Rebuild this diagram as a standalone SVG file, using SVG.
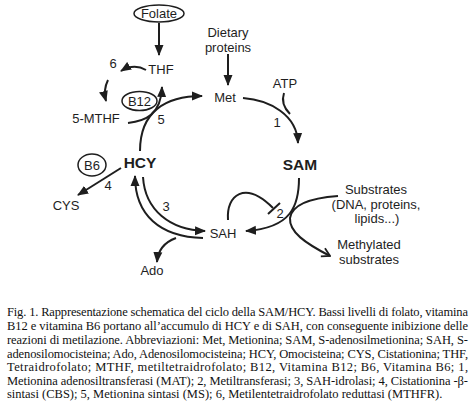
<svg xmlns="http://www.w3.org/2000/svg" width="475" height="409" viewBox="0 0 475 409">
<style>
.t{font-family:"Liberation Sans",Arial,sans-serif;font-size:13px;fill:#1e1e1e;text-anchor:middle}
.b{font-weight:bold;font-size:15.5px}
.c{fill:none;stroke:#1e1e1e;stroke-width:2}
.o{fill:#fff;stroke:#1e1e1e;stroke-width:1.5}
.cap{font-family:"Liberation Serif","Times New Roman",serif;font-size:12.5px;fill:#111}
</style>
<defs>
<marker id="ah" viewBox="0 -5 11 10" refX="10" refY="0" markerWidth="11" markerHeight="10" markerUnits="userSpaceOnUse" orient="auto">
<path d="M0,-4.5 L11,0 L0,4.5 Z" fill="#1e1e1e"/>
</marker>
<marker id="oh" viewBox="0 -6 10 12" refX="9" refY="0" markerWidth="10" markerHeight="12" markerUnits="userSpaceOnUse" orient="auto">
<path d="M1,-4.5 L9,0 L1,4.5" fill="none" stroke="#1e1e1e" stroke-width="1.8"/>
</marker>
</defs>
<rect width="475" height="409" fill="#fff"/>
<g id="connectors">
<path class="c" d="M159,23 L159,55" marker-end="url(#ah)"/>
<path class="c" d="M228,54 L228,85" marker-end="url(#ah)"/>
<path class="c" d="M146,70 Q134,63 121,71" marker-end="url(#ah)"/>
<path class="c" d="M108,80 Q103,90 106,101" marker-end="url(#ah)"/>
<path class="c" d="M128,123 C145,121 161,115 162,87" marker-end="url(#ah)"/>
<path class="c" d="M140,151 C140,112 165,96 202,96" marker-end="url(#ah)"/>
<path class="c" d="M243,98 C270,100 297,115 298,143" marker-end="url(#ah)"/>
<path class="c" d="M284,93 C281,102 284,108 290,114"/>
<path class="c" d="M299,178 C299,205 292,228 246,231" marker-end="url(#ah)"/>
<path class="c" d="M338,196 C310,198 292,205 290,218 C289,232 305,243 330,256" marker-end="url(#oh)"/>
<path class="c" d="M228,220 C226,195 245,180 273,208"/>
<path class="c" d="M268,214 L280,203"/>
<path class="c" d="M121,168 L78,195" marker-end="url(#ah)"/>
<path class="c" d="M203,238 C160,237 135,215 135,176" marker-end="url(#ah)"/>
<path class="c" d="M143,177 C145,210 170,230 205,231" marker-end="url(#ah)"/>
<path class="c" d="M176,238 C165,242 158,250 157,262" marker-end="url(#ah)"/>
</g>
<g id="folate"><ellipse class="o" cx="159" cy="13.5" rx="25" ry="8.5"/><text class="t" x="159" y="18">Folate</text></g>
<g id="dietary"><text class="t" x="228" y="37">Dietary</text><text class="t" x="228" y="52">proteins</text></g>
<g id="thf"><text class="t" x="161" y="74">THF</text></g>
<g id="n6"><text class="t" x="113" y="68">6</text></g>
<g id="b12"><ellipse class="o" cx="139.5" cy="101" rx="17.5" ry="9.5"/><text class="t" x="139.5" y="106">B12</text></g>
<g id="mthf"><text class="t" x="96" y="123">5-MTHF</text></g>
<g id="n5"><text class="t" x="161" y="124">5</text></g>
<g id="met"><text class="t" x="225" y="102">Met</text></g>
<g id="atp"><text class="t" x="285" y="88">ATP</text></g>
<g id="n1"><text class="t" x="277" y="127">1</text></g>
<g id="sam"><text class="t b" x="300" y="170">SAM</text></g>
<g id="hcy"><text class="t b" x="140" y="168">HCY</text></g>
<g id="b6"><ellipse class="o" cx="92" cy="165" rx="14" ry="11"/><text class="t" x="92" y="170">B6</text></g>
<g id="n4"><text class="t" x="108" y="190">4</text></g>
<g id="cys"><text class="t" x="66" y="210">CYS</text></g>
<g id="n3"><text class="t" x="166" y="211">3</text></g>
<g id="sah"><text class="t" x="223" y="238">SAH</text></g>
<g id="ado"><text class="t" x="152" y="275">Ado</text></g>
<g id="n2"><text class="t" x="280" y="218">2</text></g>
<g id="substrates"><text class="t" x="376" y="194">Substrates</text><text class="t" x="376" y="209">(DNA, proteins,</text><text class="t" x="377" y="223">lipids...)</text></g>
<g id="methylated"><text class="t" x="369" y="249">Methylated</text><text class="t" x="369" y="264">substrates</text></g>
<g id="caption">
<text class="cap" x="7" y="316" textLength="461" lengthAdjust="spacing">Fig. 1. Rappresentazione schematica del ciclo della SAM/HCY. Bassi livelli di folato, vitamina</text>
<text class="cap" x="7" y="330" textLength="461" lengthAdjust="spacing">B12 e vitamina B6 portano all’accumulo di HCY e di SAH, con conseguente inibizione delle</text>
<text class="cap" x="7" y="344" textLength="461" lengthAdjust="spacing">reazioni di metilazione. Abbreviazioni: Met, Metionina; SAM, S-adenosilmetionina; SAH, S-</text>
<text class="cap" x="7" y="357.5" textLength="461" lengthAdjust="spacing">adenosilomocisteina; Ado, Adenosilomocisteina; HCY, Omocisteina; CYS, Cistationina; THF,</text>
<text class="cap" x="7" y="371" textLength="461" lengthAdjust="spacing">Tetraidrofolato;  MTHF,  metiltetraidrofolato;  B12,  Vitamina  B12;  B6,  Vitamina  B6;  1,</text>
<text class="cap" x="7" y="384.5" textLength="461" lengthAdjust="spacing">Metionina adenosiltransferasi (MAT); 2, Metiltransferasi; 3, SAH-idrolasi; 4, Cistationina -β-</text>
<text class="cap" x="7" y="398">sintasi (CBS); 5, Metionina sintasi (MS); 6, Metilentetraidrofolato reduttasi (MTHFR).</text>
</g>
</svg>
